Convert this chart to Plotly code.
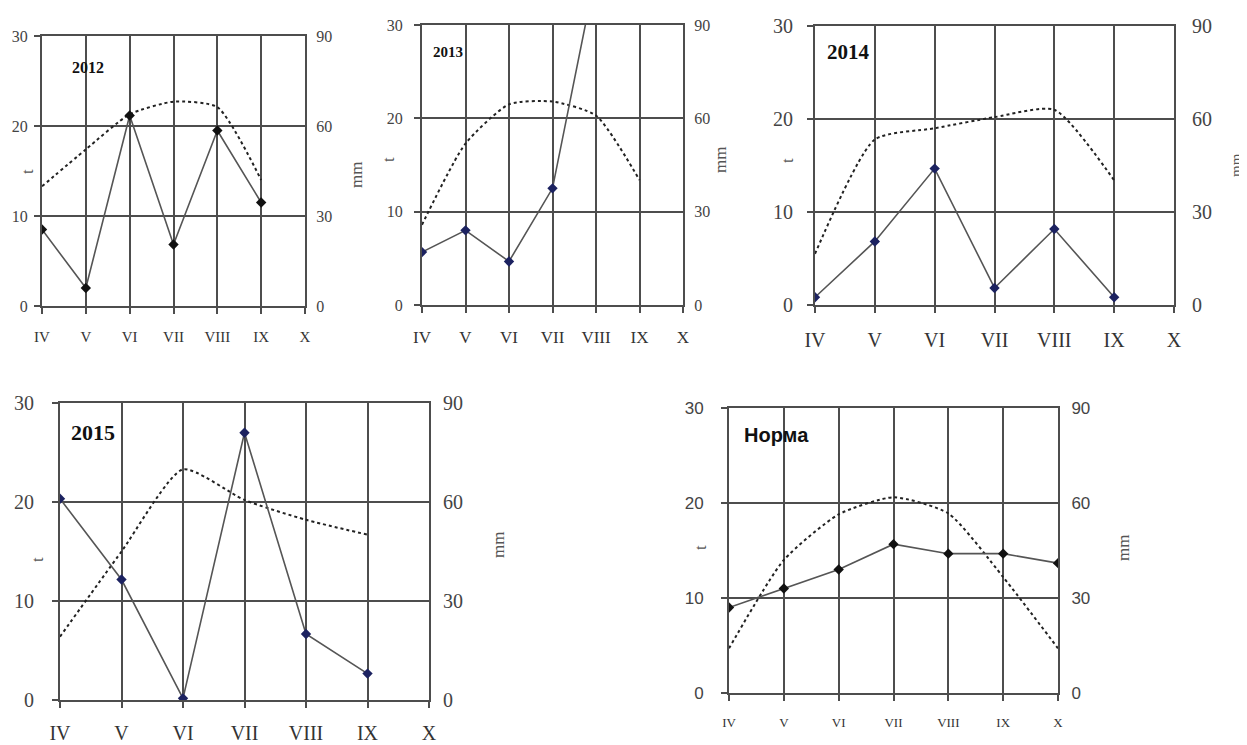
import plotly.graph_objects as go

months = ["IV", "V", "VI", "VII", "VIII", "IX", "X"]

# precipitation, mm (solid line with markers, right axis)
prec_2012 = [25.5, 6.0, 63.5, 20.5, 58.5, 34.5]
prec_2013 = [17.0, 24.0, 14.0, 37.5, 107.0, None]
prec_2014 = [2.5, 20.5, 44.0, 5.5, 24.5, 2.5]
prec_2015 = [61.0, 36.5, 0.5, 81.0, 20.0, 8.0]
prec_norm = [27.0, 33.0, 39.0, 47.0, 44.0, 44.0, 41.0]

# temperature, t (dotted line, left axis)
temp_2012 = [13.3, 17.4, 21.3, 22.7, 22.1, 14.0]
temp_2013 = [8.6, 17.3, 21.5, 21.8, 20.3, 13.4]
temp_2014 = [5.5, 17.8, 19.0, 20.2, 21.0, 13.4]
temp_2015 = [6.4, 15.0, 23.3, 20.2, 18.2, 16.7]
temp_norm = [4.7, 14.0, 18.8, 20.6, 18.9, 12.2, 4.7]

W, H = 1247, 745
OFF = 8  # page body margin

panels = [
    dict(title="2012", prec=prec_2012, temp=temp_2012, box=(42, 305, 36, 306),
         tfs=16, xfs=15, titlefs=16, tfont="Liberation Serif", titlefont="Liberation Serif",
         title_xy=(88, 68), tlab=(27, 172), mmlab=(357, 175), mmfs=17, mcol="#111111",
         lstand=3, rstand=6, xstand=10),
    dict(title="2013", prec=prec_2013, temp=temp_2013, box=(422, 683, 25, 305),
         tfs=16, xfs=17, titlefs=15, tfont="Liberation Serif", titlefont="Liberation Serif",
         title_xy=(448, 52), tlab=(388, 160), mmlab=(720, 160), mmfs=17, mcol="#1c2260",
         lstand=8, rstand=6, xstand=10),
    dict(title="2014", prec=prec_2014, temp=temp_2014, box=(815, 1174, 26, 305),
         tfs=20, xfs=20, titlefs=21, tfont="Liberation Serif", titlefont="Liberation Serif",
         title_xy=(848, 52), tlab=(787, 160), mmlab=(1236, 165), mmfs=15, mcol="#1c2260",
         lstand=10, rstand=12, xstand=10),
    dict(title="2015", prec=prec_2015, temp=temp_2015, box=(60, 429, 403, 700),
         tfs=20, xfs=20, titlefs=22, tfont="Liberation Serif", titlefont="Liberation Serif",
         title_xy=(93, 432), tlab=(37, 560), mmlab=(498, 545), mmfs=17, mcol="#1c2260",
         lstand=14, rstand=8, xstand=8),
    dict(title="Норма", prec=prec_norm, temp=temp_norm, box=(729, 1058, 408, 693),
         tfs=17, xfs=13, titlefs=20, tfont="Liberation Sans", titlefont="Liberation Sans",
         title_xy=(776, 435), tlab=(700, 548), mmlab=(1123, 548), mmfs=17, mcol="#111111",
         lstand=14, rstand=8, xstand=10),
]

GRID = "#4d4d4d"
fig = go.Figure()
layout = dict(width=W, height=H, margin=dict(l=0, r=0, t=0, b=0, autoexpand=False),
              paper_bgcolor="white", plot_bgcolor="white", showlegend=False,
              annotations=[])


def px(x):
    return (x - OFF) / W


def py(y):
    return 1 - (y - OFF) / H


for k, p in enumerate(panels, start=1):
    x0, x1, y0, y1 = p["box"]
    xd = [px(x0), px(x1)]
    yd = [py(y1), py(y0)]
    xa = "x" if k == 1 else f"x{k}"
    yl_i = 2 * k - 1
    yr_i = 2 * k
    yl = "y" if yl_i == 1 else f"y{yl_i}"
    yr = f"y{yr_i}"
    n = len(p["temp"])
    fig.add_trace(go.Scatter(x=months[:n], y=p["temp"], xaxis=xa, yaxis=yl, mode="lines",
                             line=dict(color="#222222", width=2, dash="dot",
                                       shape="spline", smoothing=0.6),
                             hoverinfo="skip"))
    fig.add_trace(go.Scatter(x=months[:len(p["prec"])], y=p["prec"], xaxis=xa, yaxis=yr,
                             mode="lines+markers", connectgaps=False,
                             line=dict(color="#555555", width=1.6),
                             marker=dict(symbol="diamond", size=8, color=p["mcol"]),
                             cliponaxis=True, hoverinfo="skip"))
    xkey = "xaxis" if k == 1 else f"xaxis{k}"
    ylkey = "yaxis" if yl_i == 1 else f"yaxis{yl_i}"
    yrkey = f"yaxis{yr_i}"
    layout[xkey] = dict(domain=xd, anchor=yl, type="category", categoryorder="array",
                        categoryarray=months, range=[0, 6], showgrid=True, gridcolor=GRID,
                        gridwidth=2, showline=True, mirror=True, linecolor=GRID, linewidth=2,
                        ticks="outside", ticklen=6, tickcolor=GRID, tickwidth=2,
                        ticklabelstandoff=p["xstand"], zeroline=False, fixedrange=True,
                        automargin=False,
                        tickfont=dict(family="Liberation Serif", size=p["xfs"], color="#333333"))
    layout[ylkey] = dict(domain=yd, anchor=xa, range=[0, 30], tickvals=[0, 10, 20, 30],
                         showgrid=True, gridcolor=GRID, gridwidth=2, showline=True,
                         linecolor=GRID, linewidth=2, ticks="outside", ticklen=6,
                         tickcolor=GRID, tickwidth=2, zeroline=False, fixedrange=True,
                         ticklabelstandoff=p["lstand"], automargin=False,
                         tickfont=dict(family=p["tfont"], size=p["tfs"], color="#444444"))
    layout[yrkey] = dict(domain=yd, anchor=xa, overlaying=yl, side="right", range=[0, 90],
                         tickvals=[0, 30, 60, 90], showgrid=False, showline=True,
                         linecolor=GRID, linewidth=2, ticks="", zeroline=False,
                         fixedrange=True, ticklabelstandoff=p["rstand"], automargin=False,
                         tickfont=dict(family=p["tfont"], size=p["tfs"], color="#444444"))
    tx, ty = p["title_xy"]
    layout["annotations"].append(dict(text=f"<b>{p['title']}</b>", xref="paper", yref="paper",
                                      x=px(tx), y=py(ty), xanchor="center", yanchor="middle",
                                      showarrow=False,
                                      font=dict(family=p["titlefont"], size=p["titlefs"],
                                                color="#111111")))
    lx, ly = p["tlab"]
    layout["annotations"].append(dict(text="t", xref="paper", yref="paper", x=px(lx),
                                      y=py(ly), xanchor="center", yanchor="middle",
                                      showarrow=False, textangle=-90,
                                      font=dict(family="Liberation Serif", size=17,
                                                color="#555555")))
    mx, my = p["mmlab"]
    layout["annotations"].append(dict(text="mm", xref="paper", yref="paper", x=px(mx),
                                      y=py(my), xanchor="center", yanchor="middle",
                                      showarrow=False, textangle=-90,
                                      font=dict(family="Liberation Serif", size=p["mmfs"],
                                                color="#555555")))

fig.update_layout(**layout)
fig.write_html("out.html")
